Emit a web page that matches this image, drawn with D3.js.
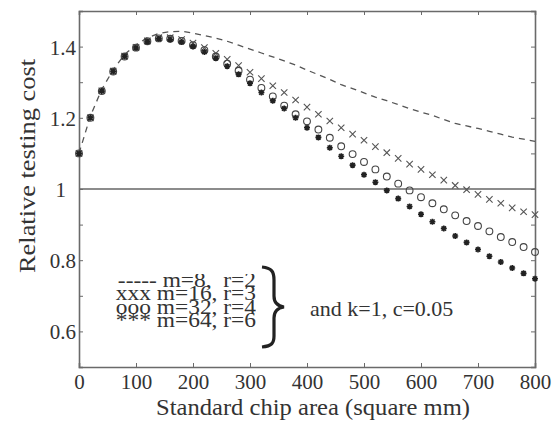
<!DOCTYPE html>
<html>
<head>
<meta charset="utf-8">
<script src="https://cdn.jsdelivr.net/npm/d3@7/dist/d3.min.js"></script>
<style>
html,body{margin:0;padding:0;background:#fff;}
svg{display:block;}
svg text{font-family:'Liberation Serif' !important;fill:#333;}
.legend{font-family:'Liberation Serif';font-size:20px;line-height:13.4px;color:#333;
  white-space:pre;text-align:right;margin:0;padding:0;transform:scaleX(1.17);transform-origin:100% 0;}
</style>
</head>
<body>
<svg id="chart" width="555" height="426"></svg>
<script>
// chip area (square mm), one point every 20
const areas = d3.range(0, 801, 20);
const xTicks = [0, 100, 200, 300, 400, 500, 600, 700, 800];
const yTicks = [0.6, 0.8, 1, 1.2, 1.4];
const yMinorTicks = [0.5, 0.6, 0.7, 0.8, 0.9, 1.0, 1.1, 1.2, 1.3, 1.4, 1.5];

const m8 = [1.10, 1.205, 1.28, 1.335, 1.378, 1.405, 1.425, 1.437, 1.442, 1.443, 1.438,
  1.431, 1.424, 1.415, 1.404, 1.393, 1.382, 1.371, 1.36, 1.348, 1.334,
  1.321, 1.308, 1.293, 1.282, 1.27, 1.258, 1.248, 1.237, 1.226, 1.216,
  1.207, 1.195, 1.184, 1.177, 1.17, 1.162, 1.154, 1.146, 1.14, 1.134];
const m16 = [1.10, 1.20, 1.276, 1.331, 1.373, 1.398, 1.416, 1.425, 1.425, 1.42, 1.41,
  1.397, 1.381, 1.364, 1.347, 1.328, 1.31, 1.29, 1.271, 1.25, 1.23,
  1.21, 1.191, 1.172, 1.154, 1.137, 1.119, 1.102, 1.086, 1.07, 1.055,
  1.04, 1.025, 1.01, 0.998, 0.985, 0.971, 0.96, 0.947, 0.936, 0.928];
const m32 = [1.10, 1.20, 1.275, 1.33, 1.372, 1.397, 1.415, 1.423, 1.422, 1.416, 1.404,
  1.39, 1.372, 1.352, 1.332, 1.307, 1.284, 1.26, 1.234, 1.21, 1.19,
  1.167, 1.144, 1.12, 1.098, 1.076, 1.055, 1.035, 1.015, 0.996, 0.977,
  0.96, 0.943, 0.926, 0.91, 0.896, 0.881, 0.865, 0.851, 0.837, 0.823];
const m64 = [1.10, 1.20, 1.275, 1.33, 1.372, 1.396, 1.414, 1.422, 1.42, 1.413, 1.40,
  1.385, 1.367, 1.345, 1.322, 1.297, 1.271, 1.248, 1.226, 1.20, 1.172,
  1.145, 1.116, 1.092, 1.067, 1.04, 1.019, 0.996, 0.973, 0.951, 0.929,
  0.908, 0.889, 0.868, 0.85, 0.83, 0.811, 0.795, 0.778, 0.763, 0.748];

const legendLines = ["----- m=8,  r=2", "xxx m=16, r=3", "ooo m=32, r=4", "*** m=64, r=6"];
const noteText = "and k=1, c=0.05";
const xTitle = "Standard chip area (square mm)";
const yTitle = "Relative testing cost";

const svg = d3.select("#chart");
const L = 79, R = 535, T = 11, B = 367;
const x = d3.scaleLinear().domain([0, 800]).range([L, R]);
const y = d3.scaleLinear().domain([0.5, 1.5]).range([B, T]);
const ink = "#333", frame = "#6a6a6a";

// reference line at 1
svg.append("line").attr("x1", x(0)).attr("x2", x(800)).attr("y1", y(1)).attr("y2", y(1))
  .attr("stroke", "#666").attr("stroke-width", 1.3);

// axes (ticks inward)
const fmt = d => (d === 1 ? "1" : d3.format(".1f")(d));
const gx = svg.append("g").attr("transform", `translate(0,${B})`)
  .call(d3.axisBottom(x).tickValues(xTicks).tickSize(-4).tickPadding(7).tickFormat(d3.format("d")));
const gxt = svg.append("g").attr("transform", `translate(0,${T})`)
  .call(d3.axisTop(x).tickValues(xTicks).tickSize(-4).tickFormat(""));
const gy = svg.append("g").attr("transform", `translate(${L},0)`)
  .call(d3.axisLeft(y).tickValues(yMinorTicks).tickSize(-4).tickPadding(3)
    .tickFormat(d => yTicks.some(t => Math.abs(t - d) < 1e-9) ? fmt(d) : ""));
const gyr = svg.append("g").attr("transform", `translate(${R},0)`)
  .call(d3.axisRight(y).tickValues(yMinorTicks).tickSize(-4).tickFormat(""));
[gx, gxt, gy, gyr].forEach(g => {
  g.attr("font-family", "Liberation Serif");
  g.select(".domain").attr("stroke", frame).attr("stroke-width", 1.6);
  g.selectAll(".tick line").attr("stroke", frame).attr("stroke-width", 1);
  g.selectAll("text").attr("font-size", 21).attr("fill", ink);
});
gy.selectAll(".tick text").attr("dy", "0.36em");
gy.selectAll(".tick").filter(d => d === 1).select("text").attr("dx", -10);

// m=8 dashed line
svg.append("path").datum(areas.map((a, i) => [a, m8[i]]))
  .attr("fill", "none").attr("stroke", "#555").attr("stroke-width", 1.3)
  .attr("stroke-dasharray", "6,5")
  .attr("d", d3.line().x(d => x(d[0])).y(d => y(d[1])));

// m=16 crosses
svg.append("g").selectAll("path").data(areas.map((a, i) => [a, m16[i]])).join("path")
  .attr("d", d => { const cx = x(d[0]), cy = y(d[1]), s = 3.2;
    return `M${cx - s},${cy - s}L${cx + s},${cy + s}M${cx - s},${cy + s}L${cx + s},${cy - s}`; })
  .attr("stroke", "#555").attr("stroke-width", 1.1).attr("fill", "none");

// m=32 circles
svg.append("g").selectAll("circle").data(areas.map((a, i) => [a, m32[i]])).join("circle")
  .attr("cx", d => x(d[0])).attr("cy", d => y(d[1])).attr("r", 3.4)
  .attr("fill", "none").attr("stroke", "#444").attr("stroke-width", 1.1);

// m=64 stars
svg.append("g").selectAll("path").data(areas.map((a, i) => [a, m64[i]])).join("path")
  .attr("d", d => { const cx = x(d[0]), cy = y(d[1]), s = 3;
    return `M${cx - s},${cy}L${cx + s},${cy}M${cx},${cy - s}L${cx},${cy + s}` +
      `M${cx - 2.2},${cy - 2.2}L${cx + 2.2},${cy + 2.2}M${cx - 2.2},${cy + 2.2}L${cx + 2.2},${cy - 2.2}`; })
  .attr("stroke", "#222").attr("stroke-width", 1.6).attr("fill", "none");

// legend: one tightly set text block
svg.append("foreignObject").attr("x", 60).attr("y", 274).attr("width", 196).attr("height", 66)
  .append("xhtml:div").attr("class", "legend").text(legendLines.join("\n"));

// brace
svg.append("path")
  .attr("d", "M262,267 C272,268 274,272 274,280 L274,296 C274,302 277,306 284,307 C277,308 274,312 274,318 L274,336 C274,343 272,346 262,347")
  .attr("fill", "none").attr("stroke", "#222").attr("stroke-width", 3.2);

svg.append("text").attr("x", 310).attr("y", 316).attr("font-size", 22)
  .attr("font-family", "Liberation Serif").text(noteText);

// axis titles
svg.append("text").attr("x", 156).attr("y", 415).attr("font-family", "Liberation Serif")
  .attr("font-size", 23).attr("textLength", 314).attr("lengthAdjust", "spacingAndGlyphs").text(xTitle);
svg.append("text").attr("transform", `translate(35,273) rotate(-90)`).attr("font-family", "Liberation Serif")
  .attr("font-size", 24).attr("textLength", 214).attr("lengthAdjust", "spacingAndGlyphs").text(yTitle);
</script>
</body>
</html>
